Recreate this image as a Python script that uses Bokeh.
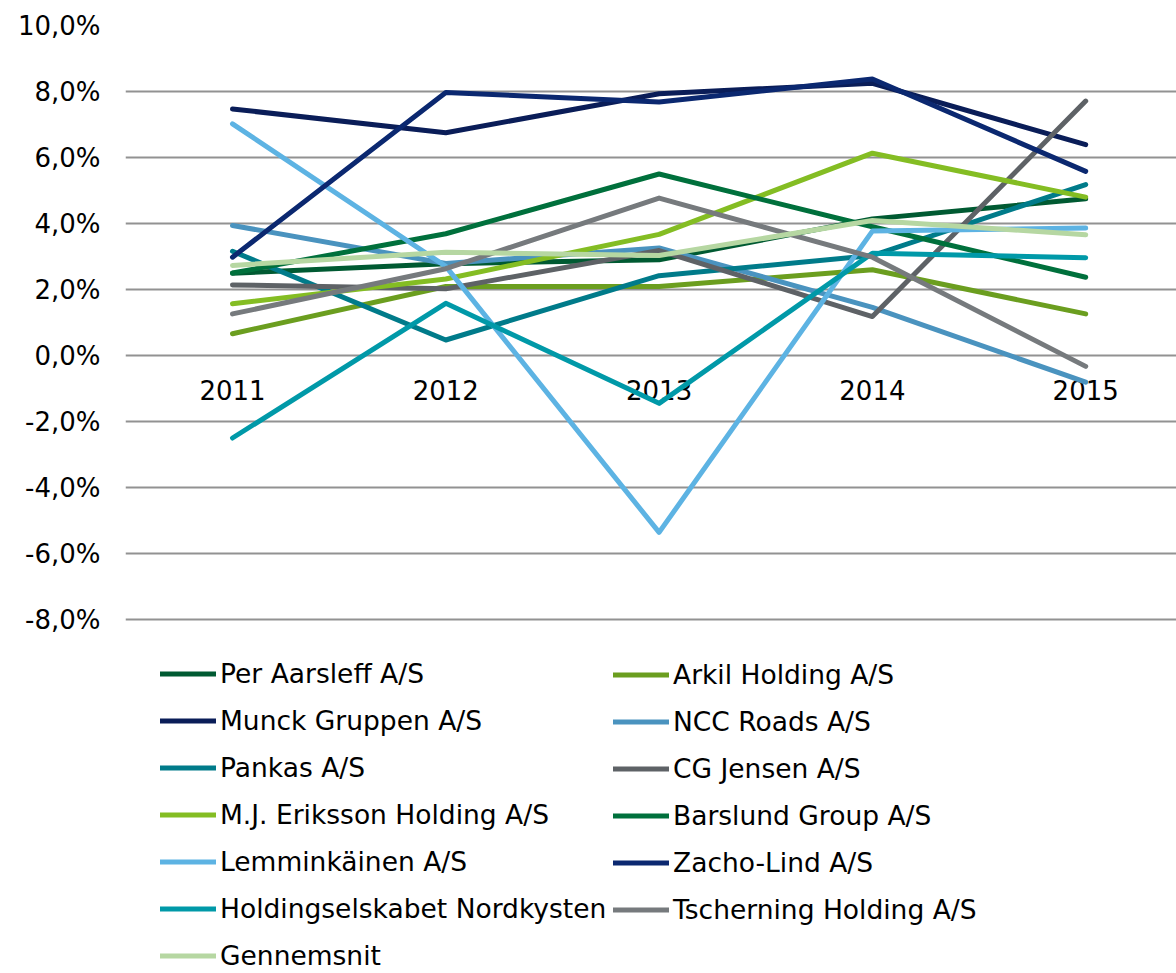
from bokeh.plotting import figure
from bokeh.models import Range1d, FixedTicker, Legend, LegendItem
from bokeh.core.properties import value
from bokeh.embed import file_html
from bokeh.resources import INLINE

years = [2011, 2012, 2013, 2014, 2015]
year_labels = ["2011", "2012", "2013", "2014", "2015"]

per_aarsleff = [2.49, 2.78, 2.90, 4.14, 4.75]
arkil = [0.66, 2.09, 2.09, 2.60, 1.26]
munck = [7.47, 6.75, 7.93, 8.25, 6.39]
ncc_roads = [3.94, 2.79, 3.26, 1.46, -0.81]
pankas = [3.16, 0.47, 2.42, 3.03, 5.18]
cg_jensen = [2.14, 2.02, 3.18, 1.18, 7.71]
mj_eriksson = [1.57, 2.32, 3.67, 6.13, 4.80]
barslund = [2.50, 3.69, 5.50, 3.90, 2.37]
lemminkainen = [7.02, 2.70, -5.36, 3.77, 3.86]
zacho_lind = [2.98, 7.97, 7.68, 8.38, 5.58]
nordkysten = [-2.50, 1.58, -1.45, 3.10, 2.96]
tscherning = [1.26, 2.63, 4.77, 2.98, -0.33]
gennemsnit = [2.73, 3.13, 3.03, 4.09, 3.66]

y_ticks = [-8, -6, -4, -2, 0, 2, 4, 6, 8, 10]
y_tick_labels = ["-8,0%", "-6,0%", "-4,0%", "-2,0%", "0,0%", "2,0%", "4,0%", "6,0%", "8,0%", "10,0%"]

series = [
    ("Per Aarsleff A/S", per_aarsleff, "#005a32"),
    ("Arkil Holding A/S", arkil, "#6b9e1f"),
    ("Munck Gruppen A/S", munck, "#0a1d58"),
    ("NCC Roads A/S", ncc_roads, "#4a93bf"),
    ("Pankas A/S", pankas, "#007b8a"),
    ("CG Jensen A/S", cg_jensen, "#5e6266"),
    ("M.J. Eriksson Holding A/S", mj_eriksson, "#84bd23"),
    ("Barslund Group A/S", barslund, "#00703c"),
    ("Lemminkäinen A/S", lemminkainen, "#5db3e3"),
    ("Zacho-Lind A/S", zacho_lind, "#0b2870"),
    ("Holdingselskabet Nordkysten", nordkysten, "#0099a8"),
    ("Tscherning Holding A/S", tscherning, "#767a7d"),
    ("Gennemsnit", gennemsnit, "#b6d7a2"),
]

FONT = "DejaVu Sans"
W, H = 1176, 973
left, top = 125, 25
px_per_unit = 33.0
frame_h = H - top
y_end = 10
y_start = y_end - frame_h / px_per_unit

x_start = 2011 - 107 / 213.3
x_end = x_start + (W - left) / 213.3

p = figure(width=W, height=H, output_backend="svg", toolbar_location=None,
           x_range=Range1d(x_start, x_end), y_range=Range1d(y_start, y_end),
           min_border_left=left, min_border_right=0, min_border_top=top, min_border_bottom=0)
p.outline_line_color = None
p.background_fill_color = "white"
p.xaxis.visible = False
p.xgrid.visible = False
p.ygrid.ticker = FixedTicker(ticks=y_ticks)
p.ygrid.grid_line_color = "#929292"
p.ygrid.grid_line_width = 2
p.yaxis.ticker = FixedTicker(ticks=y_ticks)
p.yaxis.major_label_overrides = {t: l for t, l in zip(y_ticks, y_tick_labels)}
p.yaxis.axis_line_color = None
p.yaxis.major_tick_line_color = None
p.yaxis.minor_tick_line_color = None
p.yaxis.major_tick_out = 0
p.yaxis.major_tick_in = 0
p.yaxis.major_label_standoff = 25
p.yaxis.major_label_text_font = FONT
p.yaxis.major_label_text_font_size = "26px"
p.yaxis.major_label_text_color = "black"

p.text(x=years, y=[0] * len(years), text=year_labels, text_align="center",
       text_baseline="middle", y_offset=34, text_font=value(FONT),
       text_font_size="26px", text_color="black")

renderers = {}
for name, vals, col in series:
    r = p.line(x=years, y=vals, line_color=col, line_width=5,
               line_cap="round", line_join="round")
    renderers[name] = r

left_names = [s[0] for s in series[0::2]]
right_names = [s[0] for s in series[1::2]]

def make_legend(names, loc):
    lg = Legend(items=[LegendItem(label=n, renderers=[renderers[n]]) for n in names],
                location=loc, orientation="vertical")
    lg.glyph_width = 56
    lg.glyph_height = 33
    lg.label_height = 33
    lg.spacing = 14
    lg.label_standoff = 4
    lg.padding = 0
    lg.margin = 0
    lg.border_line_color = None
    lg.background_fill_alpha = 0
    lg.label_text_font = FONT
    lg.label_text_font_size = "26.5px"
    lg.label_text_color = "black"
    return lg

p.add_layout(make_legend(left_names, (35, 1)))
p.add_layout(make_legend(right_names, (488, 47)))

open("out.html", "w").write(file_html(p, INLINE))
